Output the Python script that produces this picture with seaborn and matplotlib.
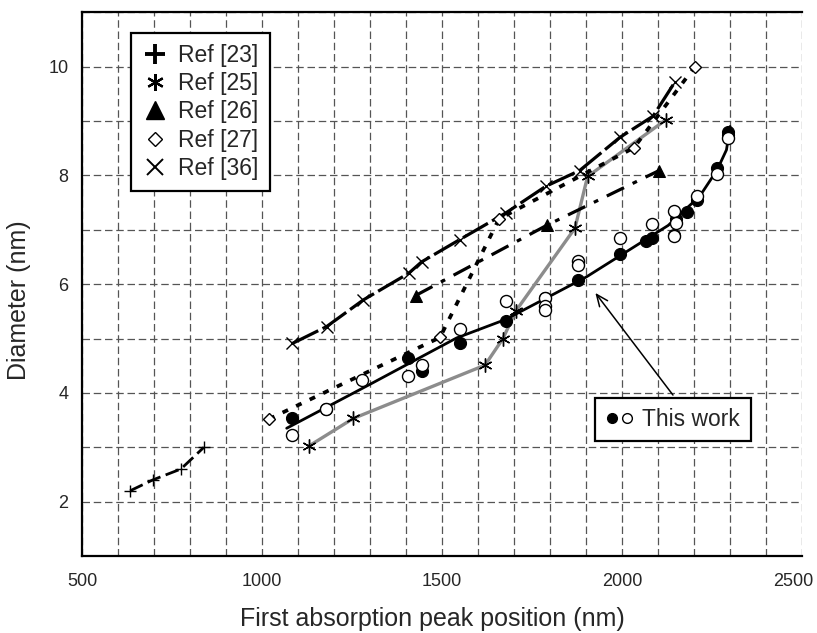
import matplotlib
matplotlib.use("Agg")
import matplotlib.pyplot as plt
from matplotlib.lines import Line2D
from matplotlib.legend_handler import HandlerTuple
from matplotlib.ticker import MultipleLocator
from matplotlib.transforms import ScaledTranslation
import seaborn as sns
import numpy as np

# ---------------- data ----------------
ref23_x = [633, 696, 774, 838]
ref23_y = [2.2, 2.4, 2.6, 3.0]

ref25_x = [1129, 1253, 1619, 1669, 1704, 1869, 1904, 2121]
ref25_y = [3.02, 3.53, 4.51, 5.00, 5.50, 7.03, 7.98, 9.02]

ref26_x = [1426, 1790, 2103]
ref26_y = [5.79, 7.08, 8.09]

ref27_x = [1019, 1494, 1658, 2033, 2202]
ref27_y = [3.52, 5.02, 7.20, 8.51, 10.0]

ref36_x = [1084, 1179, 1281, 1407, 1443, 1549, 1677, 1788, 1882, 1994, 2086, 2146]
ref36_y = [4.91, 5.22, 5.71, 6.20, 6.41, 6.82, 7.31, 7.80, 8.09, 8.70, 9.09, 9.71]

work_filled_x = [1084, 1177, 1406, 1443, 1549, 1676, 1785, 1878, 1994, 2066,
                 2082, 2144, 2149, 2179, 2209, 2264, 2294, 2294]
work_filled_y = [3.54, 3.71, 4.65, 4.40, 4.91, 5.33, 5.75, 6.07, 6.56, 6.79,
                 6.85, 6.91, 7.19, 7.33, 7.55, 8.14, 8.74, 8.80]

work_open_x = [1084, 1177, 1276, 1406, 1443, 1549, 1677, 1785, 1785, 1785, 1878,
               1878, 1994, 2082, 2144, 2149, 2144, 2209, 2264, 2294]
work_open_y = [3.23, 3.70, 4.24, 4.32, 4.51, 5.18, 5.69, 5.75, 5.60, 5.52, 6.42,
               6.36, 6.84, 7.10, 7.34, 7.13, 6.88, 7.63, 8.03, 8.69]

fit_x = [1068, 1300, 1540, 1676, 1900, 2128, 2216, 2264, 2290, 2300]
fit_y = [3.35, 4.16, 5.01, 5.35, 6.13, 7.08, 7.62, 8.10, 8.47, 8.90]

xticks = [500, 1000, 1500, 2000, 2500]
yticks = [2, 4, 6, 8, 10]

# ---------------- style ----------------
sns.set_theme(style="white")
plt.rcParams['font.family'] = ['Liberation Sans', 'DejaVu Sans']

fig = plt.figure(figsize=(8.17, 6.33), dpi=100)
ax = fig.add_axes([0.1007, 0.1216, 0.881, 0.859])

# grid
ax.set_xlim(500, 2500)
ax.set_ylim(1, 11)
ax.set_xticks(xticks)
ax.set_yticks(yticks)
ax.xaxis.set_minor_locator(MultipleLocator(100))
ax.yaxis.set_minor_locator(MultipleLocator(1))
grid_kw = dict(color='#555555', linestyle=(0, (6, 3)), linewidth=0.9)
ax.grid(True, which='both', **grid_kw)
ax.set_axisbelow(True)
ax.tick_params(which='both', length=0)
ax.tick_params(axis='x', pad=12, labelsize=13)
ax.tick_params(axis='y', pad=10, labelsize=13)

for side in ['left', 'bottom', 'top']:
    ax.spines[side].set_visible(True)
    ax.spines[side].set_color('black')
    ax.spines[side].set_linewidth(1.6)
ax.spines['right'].set_visible(False)

# series lines
sns.lineplot(x=ref23_x, y=ref23_y, ax=ax, color='black', lw=2.0,
             linestyle=(0, (5, 2)), sort=False, estimator=None,
             marker='+', ms=8, mew=1.0, mec='black')
sns.lineplot(x=ref36_x, y=ref36_y, ax=ax, color='black', lw=2.3,
             linestyle=(0, (9, 1.5)), sort=False, estimator=None,
             marker='x', ms=9, mew=1.0, mec='black')
sns.lineplot(x=ref25_x, y=ref25_y, ax=ax, color='#8c8c8c', lw=2.4,
             sort=False, estimator=None)
sns.lineplot(x=ref25_x, y=ref25_y, ax=ax, color='black', lw=0,
             sort=False, estimator=None,
             marker=(6, 2, 0), ms=10, mew=1.0, mec='black')
sns.lineplot(x=ref26_x, y=ref26_y, ax=ax, color='black', lw=2.3,
             linestyle=(0, (6, 3, 1.5, 3)), sort=False, estimator=None,
             marker='^', ms=9, mec='black', mfc='black')
sns.lineplot(x=ref27_x, y=ref27_y, ax=ax, color='black', lw=2.7,
             linestyle=(0, (1.6, 2.4)), sort=False, estimator=None,
             marker='D', ms=6.5, mew=1.0, mec='black', mfc='white')

# this work
sns.lineplot(x=fit_x, y=fit_y, ax=ax, color='black', lw=2.0,
             sort=False, estimator=None)
sns.scatterplot(x=work_filled_x, y=work_filled_y, ax=ax, color='black',
                s=75, edgecolor='black', linewidth=0.8, zorder=4)
sns.scatterplot(x=work_open_x, y=work_open_y, ax=ax, color='white',
                s=75, edgecolor='black', linewidth=1.0, zorder=4)

# arrow
ax.annotate('', xy=(1921, 5.88), xytext=(2146, 3.92),
            arrowprops=dict(arrowstyle='->,head_length=0.7,head_width=0.3',
                            lw=1.1, color='black'), zorder=5)

ax.set_xlabel('First absorption peak position (nm)', fontsize=18)
ax.set_ylabel('Diameter (nm)', fontsize=18)
ax.xaxis.set_label_coords(0.486, -0.093)
ax.yaxis.set_label_coords(-0.071, 0.47)

# keep the last x tick label inside the figure
lbls = ax.get_xticklabels()
lbls[-1].set_transform(lbls[-1].get_transform() +
                       ScaledTranslation(-6 / 72, 0, fig.dpi_scale_trans))

# legend 1
handles = [
    Line2D([], [], ls='none', marker='+', ms=14, mew=2.8, color='black'),
    Line2D([], [], ls='none', marker=(6, 2, 0), ms=12, mew=1.6, color='black'),
    Line2D([], [], ls='none', marker='^', ms=13, color='black'),
    Line2D([], [], ls='none', marker='D', ms=7, mew=1.0, mec='black', mfc='white'),
    Line2D([], [], ls='none', marker='x', ms=12, mew=1.4, color='black'),
]
labels = ['Ref [23]', 'Ref [25]', 'Ref [26]', 'Ref [27]', 'Ref [36]']
leg1 = ax.legend(handles, labels, loc='upper left',
                 bbox_to_anchor=(0.0676, 0.962), borderaxespad=0,
                 fontsize=16.5, frameon=True, fancybox=False,
                 edgecolor='black', framealpha=1, handlelength=1.1,
                 handletextpad=0.45, labelspacing=0.22, borderpad=0.5)
leg1.get_frame().set_linewidth(1.6)
ax.add_artist(leg1)

# legend 2 (this work)
h_f = Line2D([], [], ls='none', marker='o', ms=7, mfc='black', mec='black')
h_o = Line2D([], [], ls='none', marker='o', ms=7, mfc='white', mec='black', mew=1.0)
leg2 = ax.legend([(h_f, h_o)], ['This work'], loc='upper left',
                 bbox_to_anchor=(0.713, 0.291), borderaxespad=0,
                 handler_map={tuple: HandlerTuple(ndivide=None, pad=0.05)},
                 fontsize=16.5, frameon=True, fancybox=False,
                 edgecolor='black', framealpha=1, handlelength=1.2,
                 handletextpad=0.4, borderpad=0.45)
leg2.get_frame().set_linewidth(1.6)

fig.savefig('out.png', dpi=100)
